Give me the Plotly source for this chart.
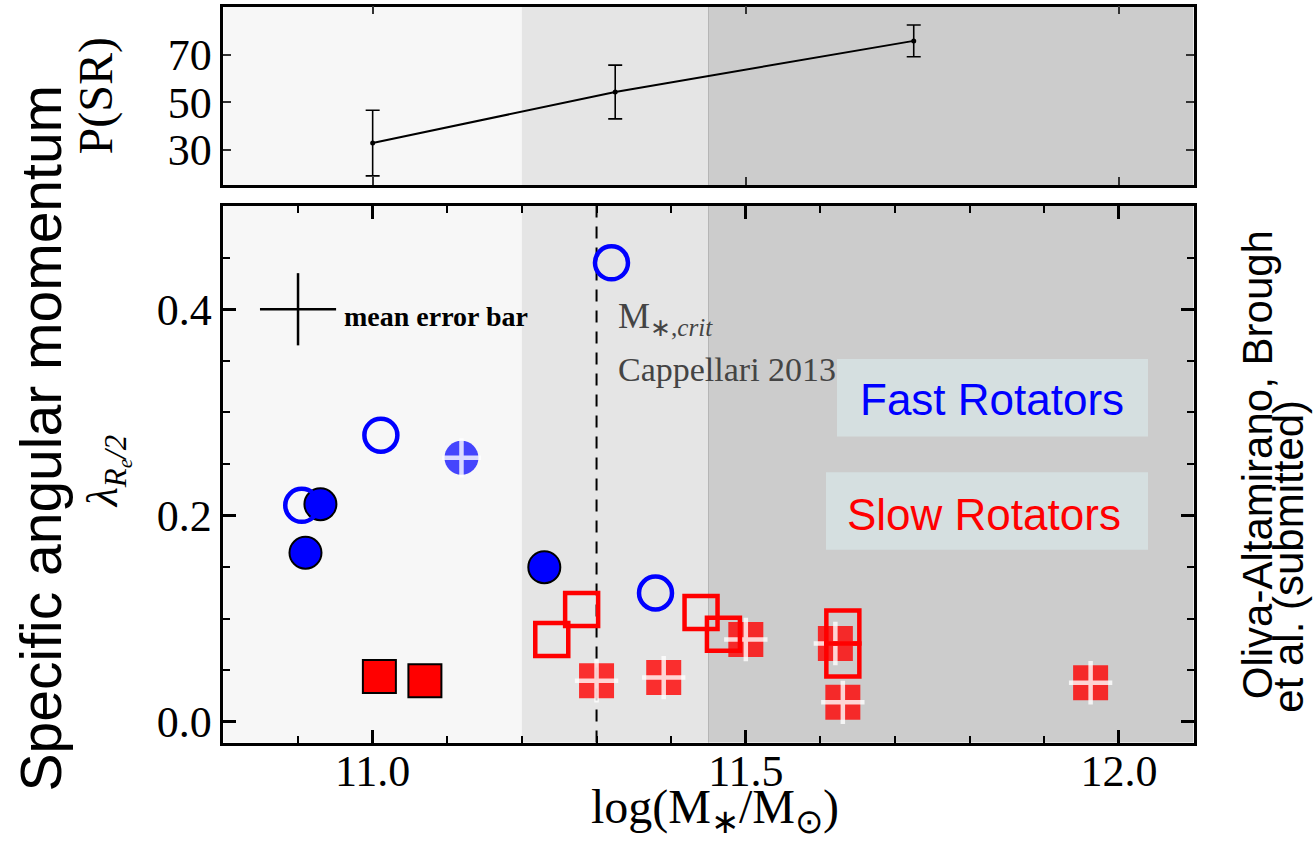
import plotly.graph_objects as go

W, H = 1313, 850

# ---------------- data ----------------
psr_mass = [11.0, 11.325, 11.725]
psr_val = [32.8, 54.3, 75.8]
psr_err = [13.8, 11.3, 6.7]

fr_open_x = [10.905, 11.011, 11.320, 11.379]
fr_open_y = [0.210, 0.278, 0.445, 0.125]
fr_fill_x = [10.930, 10.910, 11.230]
fr_fill_y = [0.211, 0.164, 0.150]
fr_plus_x = [11.119]
fr_plus_y = [0.256]

sr_fill_x = [11.009, 11.070]
sr_fill_y = [0.044, 0.040]
sr_open_x = [11.240, 11.280, 11.440, 11.470, 11.630, 11.630]
sr_open_y = [0.080, 0.109, 0.106, 0.085, 0.092, 0.060]
sr_plus_x = [11.300, 11.390, 11.500, 11.620, 11.630, 11.962]
sr_plus_y = [0.040, 0.043, 0.080, 0.076, 0.019, 0.038]

mean_err_x = [10.9]
mean_err_y = [0.4]
mean_err_dx = [0.051]
mean_err_dy = [0.035]

region_edges = [10.8, 11.2, 11.45, 12.1]
region_colors = ["#f7f7f7", "#e5e5e5", "#cccccc"]
m_crit = 11.3

x_range = [10.8, 12.1]
y_range = [-0.02, 0.5]
p_range = [15.2, 90.2]

SERIF = "Liberation Serif, Times New Roman, serif"
SANS = "Liberation Sans, Arial, Helvetica, sans-serif"


def px(p):
    return p / W


def py(p):
    return 1 - p / H


X_DOM = [px(223.4), px(1193.6)]
Y_MAIN = [py(747), py(207.3)]
Y_TOP = [py(186), py(6.7)]

WHITE_PLUS = "rgba(255,255,255,0.8)"

fig = go.Figure()

# ---- top panel: P(SR)
fig.add_trace(go.Scatter(
    x=psr_mass, y=psr_val, xaxis="x2", yaxis="y2", mode="lines+markers",
    line=dict(color="black", width=2), marker=dict(color="black", size=5),
    error_y=dict(type="data", array=psr_err, color="black", thickness=1.6, width=7),
    showlegend=False, hoverinfo="skip"))

# ---- main panel
# mean error bar cross
fig.add_trace(go.Scatter(
    x=mean_err_x, y=mean_err_y, mode="markers",
    marker=dict(size=1, color="rgba(0,0,0,0)"),
    error_x=dict(type="data", array=mean_err_dx, color="black", thickness=2.5, width=0),
    error_y=dict(type="data", array=mean_err_dy, color="black", thickness=2.5, width=0),
    showlegend=False, hoverinfo="skip"))

# slow rotators with plus (semi transparent)
fig.add_trace(go.Scatter(
    x=sr_plus_x, y=sr_plus_y, mode="markers",
    marker=dict(symbol="square", size=35, color="rgba(255,0,0,0.8)", line=dict(width=0)),
    showlegend=False, hoverinfo="skip"))
fig.add_trace(go.Scatter(
    x=sr_plus_x, y=sr_plus_y, mode="markers",
    marker=dict(symbol="cross-thin-open", size=31, color=WHITE_PLUS,
                line=dict(color=WHITE_PLUS, width=4.5)),
    showlegend=False, hoverinfo="skip"))

# fast rotator with plus
fig.add_trace(go.Scatter(
    x=fr_plus_x, y=fr_plus_y, mode="markers",
    marker=dict(symbol="circle", size=34, color="rgba(0,0,255,0.72)", line=dict(width=0)),
    showlegend=False, hoverinfo="skip"))
fig.add_trace(go.Scatter(
    x=fr_plus_x, y=fr_plus_y, mode="markers",
    marker=dict(symbol="cross-thin-open", size=28, color=WHITE_PLUS,
                line=dict(color=WHITE_PLUS, width=4.5)),
    showlegend=False, hoverinfo="skip"))

# filled slow rotators
fig.add_trace(go.Scatter(
    x=sr_fill_x, y=sr_fill_y, mode="markers",
    marker=dict(symbol="square", size=33, color="#ff0000", line=dict(color="black", width=2)),
    showlegend=False, hoverinfo="skip"))

# open slow rotators
fig.add_trace(go.Scatter(
    x=sr_open_x, y=sr_open_y, mode="markers",
    marker=dict(symbol="square-open", size=33, color="#ff0000", line=dict(color="#ff0000", width=4.5)),
    showlegend=False, hoverinfo="skip"))

# filled fast rotators
fig.add_trace(go.Scatter(
    x=fr_fill_x, y=fr_fill_y, mode="markers",
    marker=dict(symbol="circle", size=32, color="#0000ff", line=dict(color="black", width=2)),
    showlegend=False, hoverinfo="skip"))

# open fast rotators
fig.add_trace(go.Scatter(
    x=fr_open_x, y=fr_open_y, mode="markers",
    marker=dict(symbol="circle-open", size=33, color="#0000ff", line=dict(color="#0000ff", width=4.5)),
    showlegend=False, hoverinfo="skip"))

# ---- shapes
shapes = []
for xref, yref in (("x", "y domain"), ("x2", "y2 domain")):
    for i, c in enumerate(region_colors):
        shapes.append(dict(type="rect", xref=xref, yref=yref,
                           x0=region_edges[i], x1=region_edges[i + 1], y0=0, y1=1,
                           fillcolor=c, line=dict(width=0), layer="below"))
    shapes.append(dict(type="line", xref=xref, yref=yref, x0=region_edges[2], x1=region_edges[2],
                       y0=0, y1=1, line=dict(color="#b5b5b5", width=1), layer="below"))

shapes.append(dict(type="line", xref="x", yref="y domain", x0=m_crit, x1=m_crit, y0=0, y1=1,
                   line=dict(color="black", width=2, dash="12px,9px"), layer="below"))

# label boxes
shapes.append(dict(type="rect", xref="paper", yref="paper",
                   x0=px(837), x1=px(1148), y0=py(439), y1=py(361),
                   fillcolor="#d5dfe0", line=dict(width=0), layer="below"))
shapes.append(dict(type="rect", xref="paper", yref="paper",
                   x0=px(826), x1=px(1148), y0=py(553), y1=py(475),
                   fillcolor="#d5dfe0", line=dict(width=0), layer="below"))


def ann(text, x, y, size, family, color="black", angle=0, xanchor="center", align="center"):
    return dict(text=text, x=px(x), y=py(y), xref="paper", yref="paper", textangle=angle,
                xanchor=xanchor, yanchor="middle", align=align, showarrow=False,
                font=dict(family=family, size=size, color=color))


annotations = [
    ann("P(SR)", 96, 97, 48, SERIF, angle=-90),
    ann("Specific angular momentum", 41, 441, 57, SANS, angle=-90),
    ann("<i>λ<sub>R<sub>e</sub>/2</sub></i>", 108, 475, 44, SERIF, angle=-90),
    ann("log(M<sub>∗</sub>/M<sub>⊙</sub>)", 715, 815, 48, SERIF),
    ann("Oliva-Altamirano, Brough", 1257, 468, 42, SANS, angle=-90),
    ann("et al. (submitted)", 1289, 560, 42, SANS, angle=-90),
    ann("<b>mean error bar</b>", 342, 318, 28, SERIF, xanchor="left"),
    ann("M<sub>∗,<i>crit</i></sub>", 616, 320, 36, SERIF, color="#444444", xanchor="left"),
    ann("Cappellari 2013", 616, 372, 34, SERIF, color="#444444", xanchor="left"),
    ann("Fast Rotators", 992, 402, 44, SANS, color="#0000ff"),
    ann("Slow Rotators", 984, 518, 44, SANS, color="#ff0000"),
]

tickfont = dict(family=SERIF, size=44, color="black")

fig.update_layout(
    width=W, height=H, margin=dict(l=0, r=0, t=0, b=0),
    paper_bgcolor="white", plot_bgcolor="white",
    shapes=shapes, annotations=annotations, showlegend=False,
    xaxis=dict(domain=X_DOM, range=x_range, anchor="y", tick0=11.0, dtick=0.5, tickformat=".1f",
               ticks="inside", ticklen=13, tickwidth=3, tickcolor="black",
               minor=dict(dtick=0.1, tick0=10.8, ticks="inside", ticklen=7, tickwidth=1.5, tickcolor="black"),
               showline=True, linewidth=2.5, linecolor="black", mirror="ticks",
               showgrid=False, zeroline=False, tickfont=tickfont, ticklabelstandoff=-12),
    yaxis=dict(domain=Y_MAIN, range=y_range, anchor="x", tick0=0, dtick=0.2, tickformat=".1f",
               ticks="inside", ticklen=13, tickwidth=3, tickcolor="black",
               minor=dict(dtick=0.05, tick0=0, ticks="inside", ticklen=7, tickwidth=1.5, tickcolor="black"),
               showline=True, linewidth=2.5, linecolor="black", mirror="ticks",
               showgrid=False, zeroline=False, tickfont=tickfont),
    xaxis2=dict(domain=X_DOM, range=x_range, anchor="y2", tick0=11.0, dtick=0.5,
                showticklabels=False, ticks="inside", ticklen=8, tickwidth=1.5, tickcolor="#333333",
                showline=True, linewidth=2.5, linecolor="black", mirror="ticks",
                showgrid=False, zeroline=False),
    yaxis2=dict(domain=Y_TOP, range=p_range, anchor="x2", tickvals=[30, 50, 70],
                ticks="inside", ticklen=8, tickwidth=1.5, tickcolor="#333333",
                showline=True, linewidth=2.5, linecolor="black", mirror="ticks",
                showgrid=False, zeroline=False, tickfont=tickfont),
)

fig.write_html("out.html")
